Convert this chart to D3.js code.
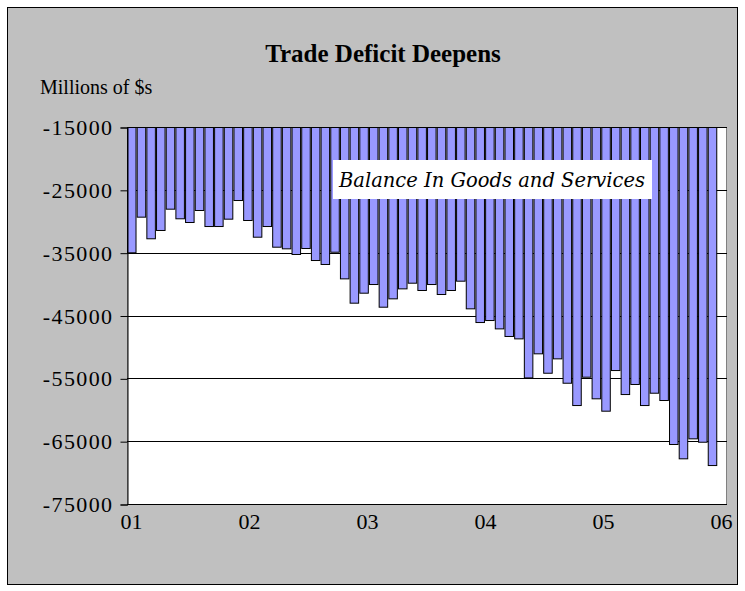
<!DOCTYPE html>
<html>
<head>
<meta charset="utf-8">
<script src="https://cdn.jsdelivr.net/npm/d3@7/dist/d3.min.js"></script>
<style>
  html, body { margin: 0; padding: 0; background: #ffffff; }
  svg { display: block; }
</style>
</head>
<body>
<div id="chart"></div>
<script>
// ---- data (millions of $, monthly Jan 2001 – Jan 2006) ----
const title = "Trade Deficit Deepens";
const yAxisTitle = "Millions of $s";
const seriesName = "Balance In Goods and Services";
const yearTickLabels = ["01", "02", "03", "04", "05", "06"];
const yTickValues = [-15000, -25000, -35000, -45000, -55000, -65000, -75000];

const values2001 = [-34940, -29270, -32710, -31390, -28000, -29530, -30120, -28210, -30760, -30760, -29590, -26620];
const values2002 = [-29800, -32460, -30760, -34050, -34310, -35210, -34260, -36170, -36800, -34850, -39090, -42960];
const values2003 = [-41370, -39990, -43600, -42270, -40680, -39780, -40940, -39990, -41580, -40940, -39460, -43860];
const values2004 = [-46040, -45720, -47050, -48260, -48640, -54850, -51020, -54110, -51820, -55700, -59250, -54740];
const values2005 = [-58180, -60150, -53680, -57500, -55900, -59250, -57290, -58450, -65450, -67730, -64550, -65090];
const values2006 = [-68800];

const yearValues = [values2001, values2002, values2003, values2004, values2005, values2006];
const data = [];
yearValues.forEach((arr, yi) => {
  arr.forEach((v, mi) => {
    data.push({ month: yearTickLabels[yi] + "-" + String(mi + 1).padStart(2, "0"), value: v });
  });
});
const categories = data.map(d => d.month);

// ---- layout ----
const W = 745, H = 591;
const plot = { left: 127, right: 726, top: 127, bottom: 504 };
const serif = "'Liberation Serif', 'Times New Roman', serif";

const svg = d3.select("#chart").append("svg")
  .attr("width", W).attr("height", H);

// outer chart area
svg.append("rect")
  .attr("x", 7.5).attr("y", 7.5).attr("width", 730).attr("height", 577)
  .attr("fill", "#c0c0c0").attr("stroke", "#000").attr("stroke-width", 1);

// plot area
svg.append("rect")
  .attr("x", plot.left + 0.5).attr("y", plot.top + 0.5)
  .attr("width", plot.right - plot.left).attr("height", plot.bottom - plot.top)
  .attr("fill", "#ffffff").attr("stroke", "#808080").attr("stroke-width", 1);

const y = d3.scaleLinear().domain([-75000, -15000]).range([plot.bottom, plot.top]);
const x = d3.scaleBand().domain(categories)
  .range([plot.left, plot.left + categories.length * 9.66])
  .paddingInner(0.12).paddingOuter(0);
const xLabel = d3.scalePoint().domain(yearTickLabels).range([131, 721]);

// gridlines
svg.append("g").selectAll("line").data(yTickValues).join("line")
  .attr("x1", plot.left).attr("x2", plot.right + 1)
  .attr("y1", d => Math.round(y(d)) + 0.5).attr("y2", d => Math.round(y(d)) + 0.5)
  .attr("stroke", "#000").attr("stroke-width", 1);

// bars hanging from the top of the axis
svg.append("g").selectAll("rect").data(data).join("rect")
  .attr("x", d => x(d.month) + 0.5)
  .attr("y", y(-15000) + 0.5)
  .attr("width", x.bandwidth())
  .attr("height", d => y(d.value) - y(-15000))
  .attr("fill", "#9999ff")
  .attr("stroke", "#000").attr("stroke-width", 1);

// y axis
const yAxis = svg.append("g")
  .attr("transform", `translate(${plot.left + 0.5},0.5)`)
  .call(d3.axisLeft(y).tickValues(yTickValues).tickSize(7).tickPadding(7)
    .tickFormat(d => String(d)));
yAxis.select(".domain").attr("stroke", "#000");
yAxis.selectAll(".tick line").attr("stroke", "#000");
yAxis.selectAll("text")
  .attr("font-family", serif)
  .attr("font-size", 22).attr("letter-spacing", 1.4).attr("fill", "#000");

// x axis line
svg.append("line")
  .attr("x1", plot.left).attr("x2", plot.right + 1)
  .attr("y1", plot.bottom + 0.5).attr("y2", plot.bottom + 0.5)
  .attr("stroke", "#000");

const xAxis = svg.append("g")
  .attr("transform", `translate(0,${plot.bottom})`)
  .call(d3.axisBottom(xLabel).tickSize(0).tickPadding(9));
xAxis.select(".domain").remove();
xAxis.selectAll("text")
  .attr("font-family", serif)
  .attr("font-size", 22).attr("fill", "#000");

// title
svg.append("text")
  .attr("x", 383).attr("y", 62).attr("text-anchor", "middle")
  .attr("font-family", serif)
  .attr("font-weight", "bold").attr("font-size", 25)
  .text(title);

// y axis title
svg.append("text")
  .attr("x", 40).attr("y", 94)
  .attr("font-family", serif)
  .attr("font-size", 20)
  .text(yAxisTitle);

// series label box
const labelG = svg.append("g");
labelG.append("rect")
  .attr("x", 333).attr("y", 160).attr("width", 319).attr("height", 39)
  .attr("fill", "#ffffff");
labelG.append("text")
  .attr("x", 492).attr("y", 187).attr("text-anchor", "middle")
  .attr("font-family", "'DejaVu Serif', serif")
  .attr("font-style", "italic").attr("font-size", 19.5)
  .text(seriesName);
</script>
</body>
</html>
